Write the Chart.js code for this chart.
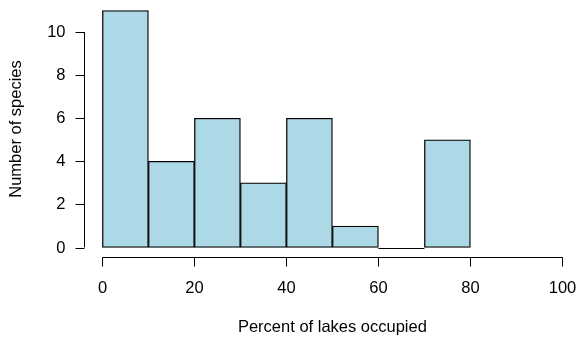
<!DOCTYPE html>
<html>
<head>
<meta charset="utf-8">
<script src="https://cdn.jsdelivr.net/npm/chart.js@4"></script>
<style>
  body { margin: 0; background: #fff; }
  #wrap { width: 577px; height: 339px; }
</style>
</head>
<body>
<div id="wrap"><canvas id="hist"></canvas></div>
<script>
// histogram bins (left edges) and counts
const binStarts = [0, 10, 20, 30, 40, 50, 60, 70];
const binWidth = 10;
const counts = [11, 4, 6, 3, 6, 1, 0, 5];
const xTicks = [0, 20, 40, 60, 80, 100];
const yTicks = [0, 2, 4, 6, 8, 10];
const xTitle = 'Percent of lakes occupied';
const yTitle = 'Number of species';

const FONT = '16.5px "Liberation Sans", Arial, sans-serif';

// R-style detached axes
const rAxes = {
    id: 'rAxes',
    afterDatasetsDraw(chart) {
        const ctx = chart.ctx;
        const xs = chart.scales.x, ys = chart.scales.y;
        const area = chart.chartArea;
        ctx.save();
        ctx.strokeStyle = '#000';
        ctx.lineWidth = 1;

        // empty bins still get a baseline like R does
        counts.forEach((c, i) => {
            if (c !== 0) return;
            const y = Math.round(ys.getPixelForValue(0)) + 0.5;
            ctx.beginPath();
            ctx.moveTo(xs.getPixelForValue(binStarts[i]), y);
            ctx.lineTo(xs.getPixelForValue(binStarts[i] + binWidth), y);
            ctx.stroke();
        });

        ctx.fillStyle = '#000';
        ctx.font = FONT;

        // y axis
        const ax = Math.round(area.left) + 0.5;
        ctx.beginPath();
        ctx.moveTo(ax, ys.getPixelForValue(yTicks[0]));
        ctx.lineTo(ax, ys.getPixelForValue(yTicks[yTicks.length - 1]));
        ctx.stroke();
        ctx.textAlign = 'right';
        ctx.textBaseline = 'middle';
        yTicks.forEach(t => {
            const y = Math.round(ys.getPixelForValue(t)) + 0.5;
            ctx.beginPath();
            ctx.moveTo(ax - 9, y);
            ctx.lineTo(ax, y);
            ctx.stroke();
            ctx.fillText(String(t), ax - 19, y);
        });

        // x axis
        const ay = Math.round(area.bottom) + 0.5;
        ctx.beginPath();
        ctx.moveTo(xs.getPixelForValue(xTicks[0]), ay);
        ctx.lineTo(xs.getPixelForValue(xTicks[xTicks.length - 1]), ay);
        ctx.stroke();
        ctx.textAlign = 'center';
        xTicks.forEach(t => {
            const x = Math.round(xs.getPixelForValue(t)) + 0.5;
            ctx.beginPath();
            ctx.moveTo(x, ay);
            ctx.lineTo(x, ay + 9);
            ctx.stroke();
            ctx.fillText(String(t), x, ay + 31);
        });

        // titles
        ctx.fillText(xTitle, xs.getPixelForValue(50), ay + 70);
        ctx.translate(16, (area.top + area.bottom) / 2);
        ctx.rotate(-Math.PI / 2);
        ctx.fillText(yTitle, 0, 0);
        ctx.restore();
    }
};

new Chart(document.getElementById('hist'), {
    type: 'bar',
    data: {
        datasets: [{
            data: binStarts.map((b, i) => ({ x: b + binWidth / 2, y: counts[i] })),
            backgroundColor: '#ADD8E6',
            borderColor: '#000',
            borderWidth: 1.3,
            borderSkipped: false,
            barPercentage: 1,
            categoryPercentage: 1
        }]
    },
    options: {
        responsive: true,
        maintainAspectRatio: false,
        animation: false,
        devicePixelRatio: 1,
        layout: { padding: { left: 84, top: 1, right: 0, bottom: 82 } },
        scales: {
            x: { type: 'linear', min: -4, max: 103.17, offset: false, display: false },
            y: { min: -0.44, max: 11.44, display: false }
        },
        plugins: {
            legend: { display: false },
            tooltip: { enabled: false }
        }
    },
    plugins: [rAxes]
});
</script>
</body>
</html>
